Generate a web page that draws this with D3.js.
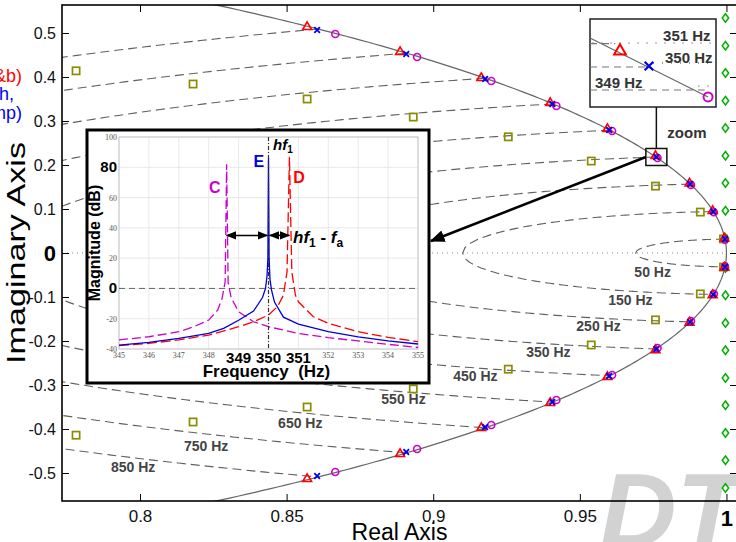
<!DOCTYPE html>
<html>
<head>
<meta charset="utf-8">
<script src="https://cdn.jsdelivr.net/npm/d3@7"></script>
<style>
  body { margin: 0; background: #fff; }
  svg { display: block; font-family: "Liberation Sans", Arial, sans-serif; }
</style>
</head>
<body>
<div id="chart"></div>
<script>
// ---- data ----
const FS = 10000                    // sample rate of the z-plane grid
const gridFreqs = [50, 150, 250, 350, 450, 550, 650, 750, 850]
const gridLabels = ["50 Hz", "150 Hz", "250 Hz", "350 Hz", "450 Hz", "550 Hz", "650 Hz", "750 Hz", "850 Hz"]
// where each label sits (real, imag)
const labelRe = [0.9686, 0.9597, 0.9488, 0.9317, 0.9068, 0.8823, 0.8471, 0.8150, 0.7901]
const labelIm = [-0.0545, -0.1182, -0.1773, -0.2364, -0.2909, -0.3432, -0.3977, -0.4500, -0.4977]

// marker groups, 50 Hz ... 850 Hz, upper half (conjugates drawn below)
const triRe = [0.9993, 0.9953, 0.9874, 0.9758, 0.9594, 0.9399, 0.9164, 0.8887, 0.8570]
const triIm = [0.0330, 0.0955, 0.1580, 0.2205, 0.2818, 0.3409, 0.3977, 0.4568, 0.5136]
const crossRe = [0.9995, 0.9955, 0.9876, 0.9761, 0.9600, 0.9406, 0.9177, 0.8908, 0.8604]
const crossIm = [0.0318, 0.0942, 0.1568, 0.2182, 0.2795, 0.3386, 0.3955, 0.4523, 0.5068]
const circRe = [0.9995, 0.9957, 0.9879, 0.9765, 0.9610, 0.9420, 0.9198, 0.8945, 0.8666]
const circIm = [0.0300, 0.0925, 0.1548, 0.2160, 0.2773, 0.3341, 0.3909, 0.4455, 0.4977]
const sqRe = [0.9990, 0.9911, 0.9758, 0.9539, 0.9256, 0.8932, 0.8570, 0.8181, 0.7782]
const sqIm = [0.032, 0.093, 0.152, 0.209, 0.264, 0.309, 0.350, 0.384, 0.414]
const diaRe = [1, 1, 1, 1, 1, 1, 1, 1, 1]
const diaIm = [0.034, 0.096, 0.159, 0.221, 0.284, 0.346, 0.409, 0.471, 0.534]

const xTicks = [0.8, 0.85, 0.9, 0.95, 1]
const yTicks = [-0.5, -0.4, -0.3, -0.2, -0.1, 0, 0.1, 0.2, 0.3, 0.4, 0.5]

// inset spectrum (Hz, dB)
const freqTicks = [345, 346, 347, 348, 349, 350, 351, 352, 353, 354, 355]
const dbTicks = [-40, -20, 0, 20, 40, 60, 80, 100]
const specE = [[345,-37.4],[346,-35.6],[347,-33],[348,-29.7],[348.5,-26.4],[349,-21],[349.5,-15],[349.8,-6],
  [349.9,0],[349.95,8],[349.98,20],[350,86],[350.02,20],[350.05,6],[350.1,-1],[350.2,-9],[350.5,-19],
  [351,-23.5],[352,-28.6],[353,-32],[354,-34.7],[355,-36.7]]
const specC = [[345,-34],[346,-31.9],[347,-28.6],[347.5,-25.3],[348,-20.9],[348.3,-14.3],[348.45,-6.4],
  [348.55,4.4],[348.6,82],[348.65,4],[348.75,-6],[349,-15.4],[349.5,-22],[350,-25.3],[350.5,-27.5],
  [351,-29.7],[352,-32.5],[353,-34.7],[354,-36.9],[355,-39]]
const specD = [[345,-37.8],[346,-36.3],[347,-34],[348,-30.8],[349,-25.3],[349.5,-22],[350,-17.6],
  [350.3,-12],[350.5,-4.4],[350.62,11],[350.7,87],[350.78,11],[350.9,-4.4],[351,-8.8],[351.5,-18.7],
  [352,-23],[353,-28.6],[354,-32.3],[355,-35.2]]

// zoom box contents, normalised 0..1 inside the box
const zoomCircle = [[0, 0.784], [0.937, 0.114]]
const zoomTri = [0.238, 0.636]
const zoomCross = [0.468, 0.466]
const zoomCirc = [0.937, 0.114]

// ---- layout ----
const W = 736, H = 542
const plot = { left: 62, right: 737, top: 5, bottom: 501 }

const svg = d3.select("#chart").append("svg")
    .attr("width", W)
    .attr("height", H)

const x = d3.scaleLinear().domain([0.7734, 1.0036]).range([plot.left, plot.right])
const y = d3.scaleLinear().domain([-0.5636, 0.5636]).range([plot.bottom, plot.top])

// watermark behind everything
svg.append("text")
    .attr("x", 600).attr("y", 547)
    .attr("font-size", 106).attr("font-weight", "bold").attr("font-style", "italic")
    .attr("fill", "#d2d2d2")
    .text("DT")

svg.append("defs").append("clipPath").attr("id", "clipMain")
  .append("rect")
    .attr("x", plot.left).attr("y", plot.top)
    .attr("width", plot.right - plot.left).attr("height", plot.bottom - plot.top)

const main = svg.append("g").attr("clip-path", "url(#clipMain)")

// real axis dotted line
main.append("line")
    .attr("x1", x(0.7734)).attr("x2", x(1))
    .attr("y1", y(0)).attr("y2", y(0))
    .attr("stroke", "#888").attr("stroke-dasharray", "1,4")

// constant natural-frequency lines of the z-plane grid
const zeta = d3.range(0, 1.0001, 0.01)
gridFreqs.forEach(f => {
    const th = 2 * Math.PI * f / FS
    const upper = zeta.map(z => [Math.exp(-z * th) * Math.cos(th * Math.sqrt(1 - z * z)),
                                 Math.exp(-z * th) * Math.sin(th * Math.sqrt(1 - z * z))])
    const pts = upper.concat(upper.slice().reverse().map(p => [p[0], -p[1]]))
    main.append("path")
        .datum(pts)
        .attr("fill", "none")
        .attr("stroke", "#606060")
        .attr("stroke-width", 1.1)
        .attr("stroke-dasharray", "9,5")
        .attr("d", d3.line().x(d => x(d[0])).y(d => y(d[1])))
})

// unit circle
const ang = d3.range(-0.62, 0.6201, 0.005)
main.append("path")
    .datum(ang)
    .attr("fill", "none")
    .attr("stroke", "#666")
    .attr("stroke-width", 1.2)
    .attr("d", d3.line().x(a => x(Math.cos(a))).y(a => y(Math.sin(a))))

// labels of the grid lines
gridLabels.forEach((t, i) => {
    svg.append("text")
        .attr("x", x(labelRe[i])).attr("y", y(labelIm[i]))
        .attr("font-size", 14).attr("font-weight", "bold")
        .attr("fill", "#444")
        .text(t)
})

// markers, both halves
function both(re, im) {
    const out = []
    re.forEach((r, i) => { out.push([r, im[i]]); out.push([r, -im[i]]) })
    return out
}
const mk = svg.append("g")

mk.selectAll(".sq").data(both(sqRe, sqIm)).enter().append("rect")
    .attr("x", d => x(d[0]) - 3.6).attr("y", d => y(d[1]) - 3.6)
    .attr("width", 7.2).attr("height", 7.2)
    .attr("fill", "none").attr("stroke", "#8c8c00").attr("stroke-width", 1.7)

mk.selectAll(".dia").data(both(diaRe, diaIm)).enter().append("path")
    .attr("transform", d => `translate(${x(d[0]) - 1},${y(d[1])})`)
    .attr("d", "M0,-4.2L3.2,0L0,4.2L-3.2,0Z")
    .attr("fill", "none").attr("stroke", "#00b000").attr("stroke-width", 1.5)

mk.selectAll(".circ").data(both(circRe, circIm)).enter().append("circle")
    .attr("cx", d => x(d[0])).attr("cy", d => y(d[1])).attr("r", 3.5)
    .attr("fill", "none").attr("stroke", "#cc00cc").attr("stroke-width", 1.6)

mk.selectAll(".tri").data(both(triRe, triIm)).enter().append("path")
    .attr("transform", d => `translate(${x(d[0])},${y(d[1])})`)
    .attr("d", d3.symbol(d3.symbolTriangle, 34))
    .attr("fill", "none").attr("stroke", "#ff0000").attr("stroke-width", 1.6)

mk.selectAll(".cross").data(both(crossRe, crossIm)).enter().append("path")
    .attr("transform", d => `translate(${x(d[0])},${y(d[1])})`)
    .attr("d", d3.symbol(d3.symbolTimes, 22))
    .attr("fill", "none").attr("stroke", "#0000ee").attr("stroke-width", 1.8)

// axes
const xAxis = svg.append("g")
    .attr("transform", `translate(0,${plot.bottom})`)
    .call(d3.axisBottom(x).tickValues(xTicks).tickSize(-7).tickPadding(9).tickFormat(d => String(d)))
const yAxis = svg.append("g")
    .attr("transform", `translate(${plot.left},0)`)
    .call(d3.axisLeft(y).tickValues(yTicks).tickSize(-7).tickPadding(6).tickFormat(d => String(d)))
svg.append("g")
    .attr("transform", `translate(0,${plot.top})`)
    .call(d3.axisTop(x).tickValues(xTicks).tickSize(-7).tickFormat(""))
svg.append("g")
    .attr("transform", `translate(${plot.right},0)`)
    .call(d3.axisRight(y).tickValues(yTicks).tickSize(-7).tickFormat(""))

svg.selectAll(".domain").remove()
svg.selectAll(".tick line").attr("stroke", "#000")
xAxis.selectAll("text").attr("font-size", 17).attr("fill", "#111").attr("font-family", "Liberation Sans, Arial, sans-serif")
yAxis.selectAll("text").attr("font-size", 16).attr("fill", "#111").attr("font-family", "Liberation Sans, Arial, sans-serif")
xAxis.selectAll(".tick").filter(d => d === 1).select("text")
    .attr("font-size", 22).attr("font-weight", "bold").attr("fill", "#000")
yAxis.selectAll(".tick").filter(d => d === 0).select("text")
    .attr("font-size", 22).attr("font-weight", "bold").attr("fill", "#000")

svg.append("rect")
    .attr("x", plot.left).attr("y", plot.top)
    .attr("width", plot.right - plot.left).attr("height", plot.bottom - plot.top)
    .attr("fill", "none").attr("stroke", "#000").attr("stroke-width", 1.6)

svg.append("text")
    .attr("x", (plot.left + plot.right) / 2).attr("y", 540)
    .attr("text-anchor", "middle").attr("font-size", 23)
    .text("Real Axis")
svg.append("text")
    .attr("transform", `translate(25,${y(0)}) rotate(-90)`)
    .attr("text-anchor", "middle").attr("font-size", 25)
    .attr("textLength", 222).attr("lengthAdjust", "spacingAndGlyphs")
    .text("Imaginary Axis")

// legend remnants cut at the left edge
svg.append("text").attr("x", 22).attr("y", 82).attr("text-anchor", "end")
    .attr("font-size", 18).attr("fill", "#ff0000").text("(a&b)")
svg.append("text").attr("x", 14).attr("y", 100).attr("text-anchor", "end")
    .attr("font-size", 18).attr("fill", "#0000ee").text("(with,")
svg.append("text").attr("x", 22).attr("y", 119).attr("text-anchor", "end")
    .attr("font-size", 18).attr("fill", "#0000ee").text("(damp)")

// ---- zoom box (top right) ----
const zb = { left: 590, right: 716, top: 19, bottom: 107 }
const zx = d3.scaleLinear().domain([0, 1]).range([zb.left, zb.right])
const zy = d3.scaleLinear().domain([0, 1]).range([zb.bottom, zb.top])
const zg = svg.append("g")
zg.append("rect")
    .attr("x", zb.left).attr("y", zb.top)
    .attr("width", zb.right - zb.left).attr("height", zb.bottom - zb.top)
    .attr("fill", "#fff").attr("stroke", "#222").attr("stroke-width", 1.5)

function zline(x1, x2, yv, dash) {
    zg.append("line")
        .attr("x1", zx(x1)).attr("x2", zx(x2)).attr("y1", zy(yv)).attr("y2", zy(yv))
        .attr("stroke", "#777").attr("stroke-width", dash === "1,8" ? 1.6 : 1.1)
        .attr("stroke-dasharray", dash)
}
zline(0.02, 0.97, 0.727, "1,8")
zline(0.0, 0.2, 0.72, "7,5")
zline(0.0, 0.47, 0.455, "7,5")
zline(0.5, 0.97, 0.5, "1,8")
zline(0.0, 0.91, 0.193, "7,5")
zline(0.86, 0.97, 0.239, "1,8")

zg.append("path")
    .datum(zoomCircle)
    .attr("stroke", "#666").attr("stroke-width", 1.1).attr("fill", "none")
    .attr("d", d3.line().x(d => zx(d[0])).y(d => zy(d[1])))

const zlabels = [["351 Hz", 0.58, 0.755], ["350 Hz", 0.595, 0.5], ["349 Hz", 0.04, 0.22]]
zlabels.forEach(l => {
    zg.append("text")
        .attr("x", zx(l[1])).attr("y", zy(l[2]))
        .attr("font-size", 15).attr("font-weight", "bold").attr("fill", "#333")
        .text(l[0])
})
zg.append("path")
    .attr("transform", `translate(${zx(zoomTri[0])},${zy(zoomTri[1])})`)
    .attr("d", d3.symbol(d3.symbolTriangle, 60))
    .attr("fill", "none").attr("stroke", "#ff0000").attr("stroke-width", 2)
zg.append("path")
    .attr("transform", `translate(${zx(zoomCross[0])},${zy(zoomCross[1])})`)
    .attr("d", d3.symbol(d3.symbolTimes, 50))
    .attr("fill", "none").attr("stroke", "#0000ee").attr("stroke-width", 2.2)
zg.append("circle")
    .attr("cx", zx(zoomCirc[0])).attr("cy", zy(zoomCirc[1])).attr("r", 4.5)
    .attr("fill", "none").attr("stroke", "#cc00cc").attr("stroke-width", 2)

// small square round the 350 Hz point and the connectors
const sqC = [x(crossRe[3]), y(crossIm[3])]
svg.append("rect")
    .attr("x", sqC[0] - 10.5).attr("y", sqC[1] - 8.5)
    .attr("width", 21).attr("height", 17)
    .attr("fill", "none").attr("stroke", "#111").attr("stroke-width", 1.5)
svg.append("line")
    .attr("x1", sqC[0]).attr("x2", sqC[0])
    .attr("y1", zb.bottom).attr("y2", sqC[1] - 8.5)
    .attr("stroke", "#111").attr("stroke-width", 1.5)
svg.append("text")
    .attr("x", sqC[0] + 11).attr("y", 138)
    .attr("font-size", 15).attr("font-weight", "bold").attr("fill", "#333")
    .text("zoom")

const defs = svg.select("defs")
defs.append("marker")
    .attr("id", "ah").attr("viewBox", "0 0 10 10").attr("refX", 9).attr("refY", 5)
    .attr("markerWidth", 6).attr("markerHeight", 6).attr("orient", "auto-start-reverse")
  .append("path").attr("d", "M0,1L10,5L0,9Z").attr("fill", "#000")
defs.append("marker")
    .attr("id", "ahs").attr("viewBox", "0 0 10 10").attr("refX", 9).attr("refY", 5)
    .attr("markerWidth", 7).attr("markerHeight", 7).attr("orient", "auto-start-reverse")
  .append("path").attr("d", "M0,1L10,5L0,9Z").attr("fill", "#000")

// ---- spectrum inset ----
const ib = { left: 87, right: 429, top: 130, bottom: 383 }
const ia = { left: 119, right: 418, top: 137, bottom: 349 }
const fx = d3.scaleLinear().domain([345, 355]).range([ia.left, ia.right])
const fy = d3.scaleLinear().domain([-40, 100]).range([ia.bottom, ia.top])
const ins = svg.append("g")
ins.append("rect")
    .attr("x", ib.left).attr("y", ib.top)
    .attr("width", ib.right - ib.left).attr("height", ib.bottom - ib.top)
    .attr("fill", "#fff").attr("stroke", "#000").attr("stroke-width", 3)

ins.selectAll(".vg").data(freqTicks).enter().append("line")
    .attr("x1", d => fx(d)).attr("x2", d => fx(d)).attr("y1", ia.top).attr("y2", ia.bottom)
    .attr("stroke", "#e2e2e2").attr("stroke-width", 0.8)
ins.selectAll(".hg").data(dbTicks).enter().append("line")
    .attr("y1", d => fy(d)).attr("y2", d => fy(d)).attr("x1", ia.left).attr("x2", ia.right)
    .attr("stroke", "#e2e2e2").attr("stroke-width", 0.8)
ins.append("rect")
    .attr("x", ia.left).attr("y", ia.top)
    .attr("width", ia.right - ia.left).attr("height", ia.bottom - ia.top)
    .attr("fill", "none").attr("stroke", "#bbb").attr("stroke-width", 0.8)

// small tick labels
ins.selectAll(".fl").data(freqTicks.filter(d => d < 349 || d > 351)).enter().append("text")
    .attr("x", d => fx(d)).attr("y", ia.bottom + 9)
    .attr("text-anchor", "middle").attr("font-size", 8).attr("fill", "#555")
    .attr("font-family", "Liberation Serif, serif")
    .text(d => d)
ins.selectAll(".bl").data(freqTicks.filter(d => d >= 349 && d <= 351)).enter().append("text")
    .attr("x", d => fx(d)).attr("y", ia.bottom + 14)
    .attr("text-anchor", "middle").attr("font-size", 15).attr("font-weight", "bold")
    .text(d => d)
ins.selectAll(".dl").data(dbTicks.filter(d => d !== 0 && d !== 80)).enter().append("text")
    .attr("x", ia.left - 2).attr("y", d => fy(d) + 3)
    .attr("text-anchor", "end").attr("font-size", 8).attr("fill", "#555")
    .attr("font-family", "Liberation Serif, serif")
    .text(d => d)
ins.selectAll(".dlb").data([0, 80]).enter().append("text")
    .attr("x", ia.left - 2).attr("y", d => fy(d) + 5)
    .attr("text-anchor", "end").attr("font-size", 15).attr("font-weight", "bold")
    .text(d => d)

ins.append("text")
    .attr("x", (ia.left + ia.right) / 2 - 2).attr("y", 377)
    .attr("text-anchor", "middle").attr("font-size", 17).attr("font-weight", "bold")
    .attr("xml:space", "preserve")
    .text("Frequency  (Hz)")
ins.append("text")
    .attr("transform", `translate(100,${(ia.top + ia.bottom) / 2}) rotate(-90)`)
    .attr("text-anchor", "middle").attr("font-size", 16).attr("font-weight", "bold")
    .text("Magnitude (dB)")

// 0 dB and hf1 reference lines
ins.append("line")
    .attr("x1", ia.left).attr("x2", ia.right).attr("y1", fy(0)).attr("y2", fy(0))
    .attr("stroke", "#666").attr("stroke-width", 1).attr("stroke-dasharray", "6,4")

const specLine = d3.line().x(d => fx(d[0])).y(d => fy(d[1]))
ins.append("path").datum(specC)
    .attr("fill", "none").attr("stroke", "#cc00cc").attr("stroke-width", 1.3)
    .attr("stroke-dasharray", "9,4").attr("d", specLine)
ins.append("path").datum(specD)
    .attr("fill", "none").attr("stroke", "#ff0000").attr("stroke-width", 1.3)
    .attr("stroke-dasharray", "10,4").attr("d", specLine)
ins.append("path").datum(specE)
    .attr("fill", "none").attr("stroke", "#0000dd").attr("stroke-width", 1.3)
    .attr("d", specLine)

ins.append("line")
    .attr("x1", fx(350)).attr("x2", fx(350)).attr("y1", ia.top).attr("y2", ia.bottom)
    .attr("stroke", "#333").attr("stroke-width", 1.2).attr("stroke-dasharray", "4,2,1,2")

// annotations
ins.append("text").attr("x", fx(349.68)).attr("y", fy(80))
    .attr("text-anchor", "middle").attr("font-size", 16).attr("font-weight", "bold")
    .attr("fill", "#0000dd").text("E")
ins.append("text").attr("x", fx(348.2)).attr("y", fy(63))
    .attr("text-anchor", "middle").attr("font-size", 16).attr("font-weight", "bold")
    .attr("fill", "#cc00cc").text("C")
ins.append("text").attr("x", fx(351.02)).attr("y", fy(69.5))
    .attr("text-anchor", "middle").attr("font-size", 16).attr("font-weight", "bold")
    .attr("fill", "#ff0000").text("D")

const hf = ins.append("text").attr("x", fx(350.15)).attr("y", fy(91.5))
    .attr("font-size", 15).attr("font-weight", "bold").attr("font-style", "italic")
hf.append("tspan").text("hf")
hf.append("tspan").attr("font-size", 10).attr("dy", 3).attr("font-style", "normal").text("1")

const hfa = ins.append("text").attr("x", fx(350.82)).attr("y", fy(30))
    .attr("font-size", 17).attr("font-weight", "bold").attr("font-style", "italic")
    .attr("xml:space", "preserve")
hfa.append("tspan").text("hf")
hfa.append("tspan").attr("font-size", 12).attr("dy", 4).attr("font-style", "normal").text("1")
hfa.append("tspan").attr("dy", -4).attr("font-style", "normal").text(" - ")
hfa.append("tspan").text("f")
hfa.append("tspan").attr("font-size", 12).attr("dy", 4).attr("font-style", "normal").text("a")

const arrowDb = 35
ins.append("line")
    .attr("x1", fx(348.6)).attr("x2", fx(349.96)).attr("y1", fy(arrowDb)).attr("y2", fy(arrowDb))
    .attr("stroke", "#000").attr("stroke-width", 1.5)
    .attr("marker-start", "url(#ahs)").attr("marker-end", "url(#ahs)")
ins.append("line")
    .attr("x1", fx(350.04)).attr("x2", fx(350.7)).attr("y1", fy(arrowDb)).attr("y2", fy(arrowDb))
    .attr("stroke", "#000").attr("stroke-width", 1.5)
    .attr("marker-start", "url(#ahs)").attr("marker-end", "url(#ahs)")

// arrow from the small square to the inset
svg.append("line")
    .attr("x1", sqC[0] - 10.5).attr("y1", sqC[1])
    .attr("x2", ib.right + 2).attr("y2", 241)
    .attr("stroke", "#000").attr("stroke-width", 2.5)
    .attr("marker-end", "url(#ah)")
</script>
</body>
</html>
